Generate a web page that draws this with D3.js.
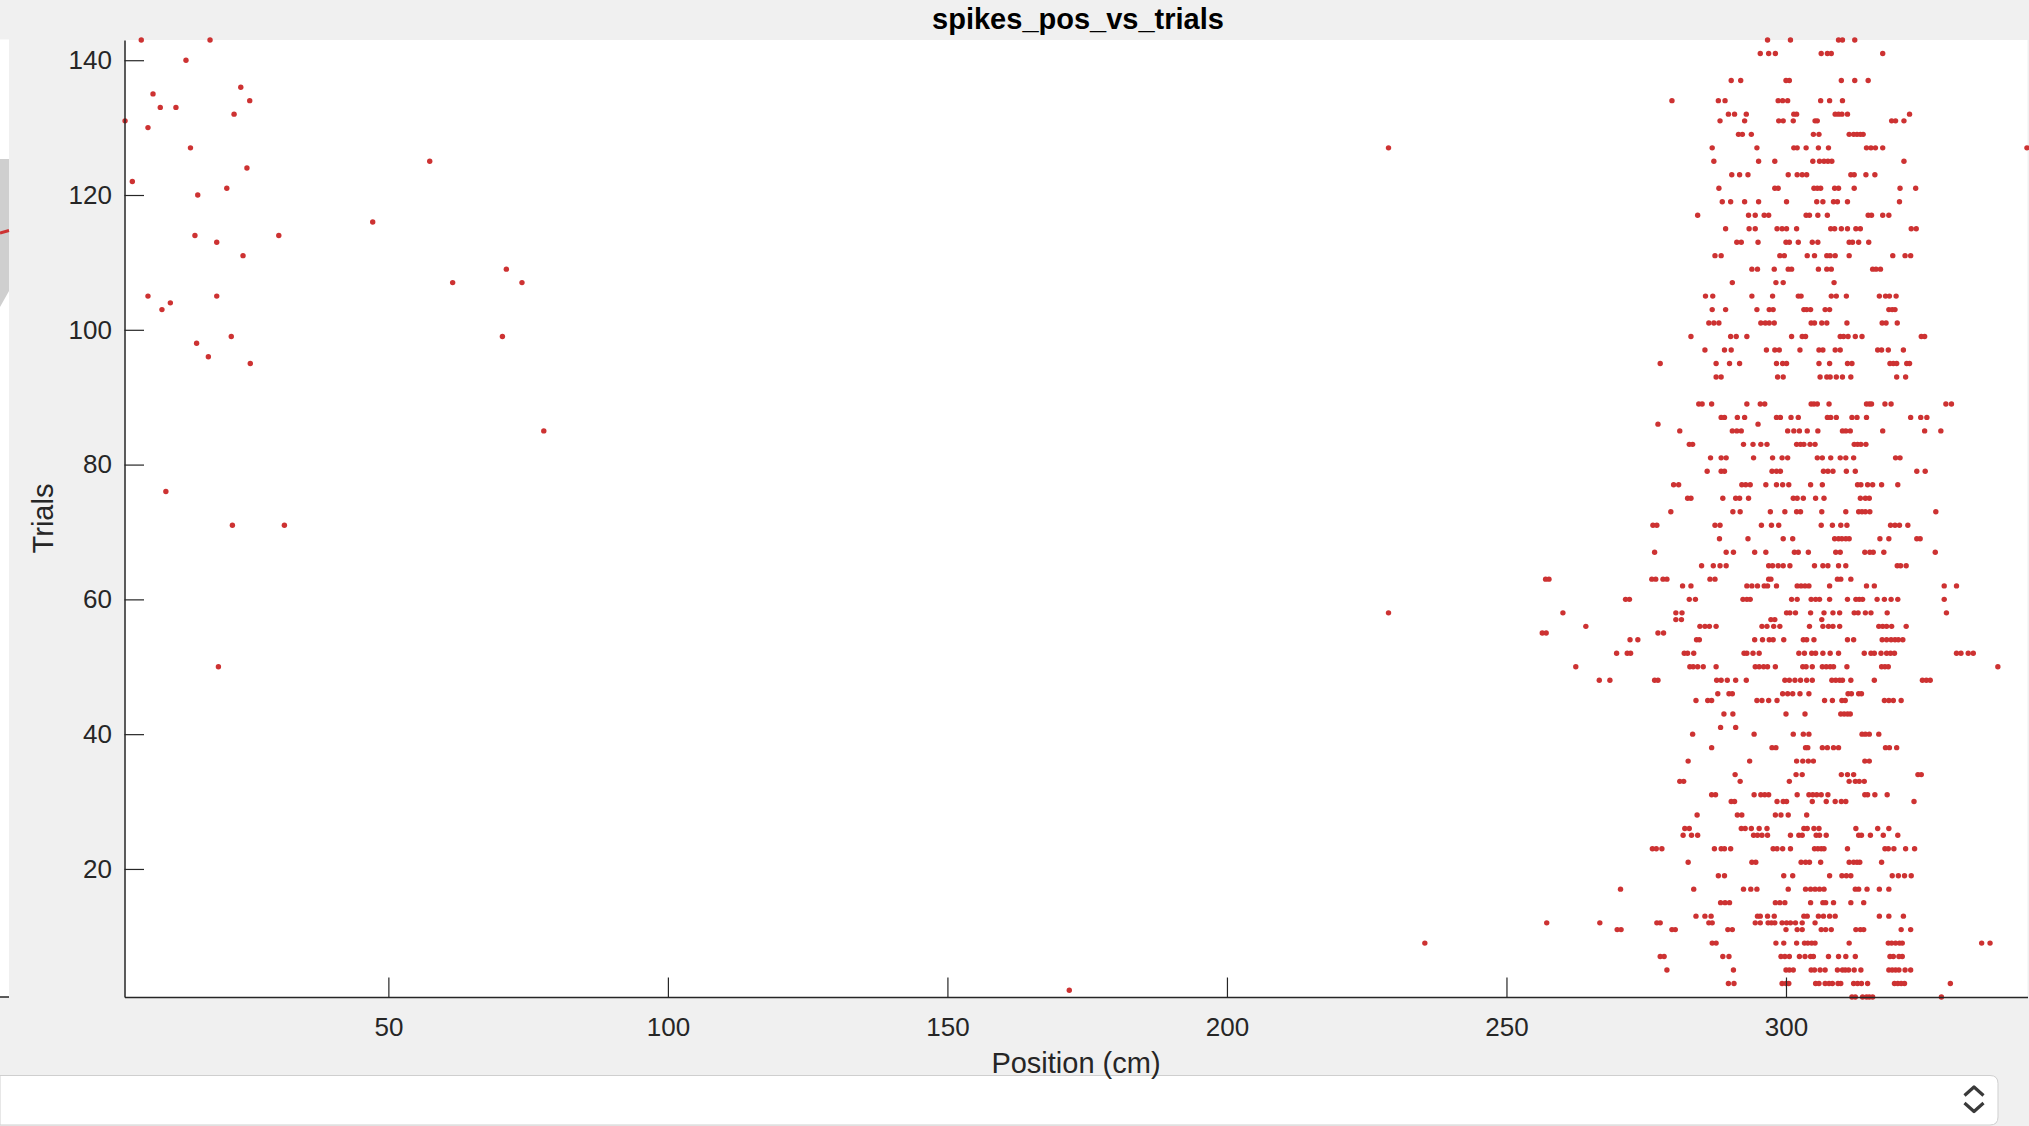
<!DOCTYPE html>
<html><head><meta charset="utf-8">
<script src="https://cdn.jsdelivr.net/npm/d3@7"></script>
<style>html,body{margin:0;padding:0;background:#f0f0f0;overflow:hidden}svg{display:block}</style>
</head><body>
<svg id="chart" width="2029" height="1126"></svg>
<script>
// ---------- data ----------
const chartTitle = "spikes_pos_vs_trials";
const xLabel = "Position (cm)";
const yLabel = "Trials";
const xDomain = [2.8, 343.2];
const yDomain = [1, 143];
const xTicks = [50, 100, 150, 200, 250, 300];
const yTicks = [20, 40, 60, 80, 100, 120, 140];

// sparse spikes outside the place field: [trial, [positions cm]]
const straySpikes = [
  [143, [5.8, 18.1]], [140, [13.8]], [136, [23.6]], [135, [7.9]], [134, [25.2]],
  [133, [9.2, 12.0]], [132, [22.4]], [131, [2.9]], [130, [7.0]], [127, [14.6, 228.9]],
  [125, [57.4]], [124, [24.7]], [122, [4.2]], [121, [21.1]], [120, [15.9]],
  [116, [47.2]], [114, [15.4, 30.4]], [113, [19.3]], [111, [24.0]], [109, [71.1]],
  [107, [61.5, 73.9]], [105, [7.0, 19.3]], [104, [11.0]], [103, [9.5]], [99, [21.9, 70.4]],
  [98, [15.7]], [96, [17.8]], [95, [25.3]], [85, [77.8]], [76, [10.2]],
  [71, [22.1, 31.4]], [58, [228.9]], [50, [19.6]], [9, [235.4]], [2, [171.8]]
];

// spikes in the place field: [trial, [positions cm]]
const fieldSpikes = [
  [143, [296.7, 300.8, 309.4, 310.1, 312.3]],
  [141, [295.4, 296.9, 298.1, 306.3, 307.4, 308.1, 317.3]],
  [137, [290.2, 291.9, 300.0, 300.6, 309.9, 312.3, 314.7]],
  [134, [279.6, 287.9, 289.1, 298.6, 299.4, 300.3, 306.2, 307.8, 310.1]],
  [132, [289.7, 290.8, 292.9, 301.4, 301.9, 308.8, 309.4, 310.0, 311.0, 322.1]],
  [131, [288.2, 292.6, 298.7, 299.5, 301.3, 305.2, 305.6, 318.9, 319.6, 321.1]],
  [129, [291.5, 292.2, 293.8, 304.9, 305.9, 311.3, 312.1, 312.7, 313.3, 313.8]],
  [127, [286.8, 294.8, 301.4, 302.0, 303.6, 305.8, 307.6, 314.4, 315.2, 316.0, 317.3, 343.1]],
  [125, [287.1, 295.1, 298.0, 304.8, 306.0, 306.8, 307.5, 308.2, 321.1]],
  [123, [290.3, 291.7, 293.2, 300.4, 302.0, 302.9, 303.7, 311.6, 312.2, 314.3, 315.9]],
  [121, [288.0, 298.0, 298.6, 305.0, 305.6, 306.2, 308.7, 309.4, 312.2, 320.4, 323.2]],
  [119, [288.6, 290.1, 292.6, 295.1, 300.1, 305.5, 306.6, 308.5, 309.2, 311.0, 320.3]],
  [117, [284.2, 293.3, 294.5, 296.1, 296.9, 303.6, 304.2, 305.7, 307.4, 314.7, 315.3, 317.3, 318.4]],
  [115, [289.2, 293.4, 294.5, 298.4, 299.3, 300.1, 301.9, 308.0, 308.7, 309.9, 311.0, 312.5, 313.3, 322.4, 323.3]],
  [113, [291.2, 292.0, 295.0, 300.0, 300.6, 302.2, 304.7, 305.7, 311.3, 311.9, 313.0, 314.8]],
  [111, [287.3, 288.4, 298.9, 299.7, 303.8, 305.1, 307.3, 307.9, 308.8, 311.3, 319.1, 321.3, 322.3]],
  [109, [293.9, 294.9, 297.9, 300.4, 301.0, 305.8, 307.3, 308.1, 315.5, 316.1, 316.9]],
  [107, [290.4, 298.2, 299.5, 308.6]],
  [105, [285.6, 286.9, 293.9, 297.6, 302.2, 302.7, 308.1, 309.0, 310.8, 316.7, 317.8, 318.5, 319.7]],
  [103, [286.8, 289.2, 294.8, 297.0, 297.7, 303.2, 303.7, 304.4, 307.0, 307.8, 318.4, 319.0, 319.5]],
  [101, [286.2, 287.1, 288.0, 295.5, 296.3, 297.0, 297.9, 304.5, 305.1, 306.4, 307.3, 310.9, 317.2, 317.9, 319.9]],
  [99, [283.0, 290.1, 291.1, 293.0, 301.0, 302.9, 303.5, 309.7, 310.3, 311.1, 312.4, 313.6, 324.2, 324.8]],
  [97, [285.5, 289.0, 290.2, 296.5, 298.0, 298.8, 302.5, 305.9, 306.6, 308.8, 309.7, 316.4, 317.1, 318.3, 321.0]],
  [95, [277.5, 287.5, 289.9, 291.7, 298.3, 299.4, 300.1, 305.9, 307.8, 311.0, 311.8, 318.6, 319.2, 319.8, 321.6, 322.1]],
  [93, [287.5, 288.4, 298.5, 299.5, 306.1, 307.3, 307.9, 309.0, 310.1, 311.6, 319.8, 321.4]],
  [89, [284.4, 285.0, 286.7, 293.0, 295.4, 296.2, 304.5, 305.0, 305.6, 307.7, 314.4, 314.9, 315.3, 317.7, 318.8, 328.6, 329.6]],
  [87, [288.4, 289.0, 291.3, 292.6, 298.3, 299.0, 300.9, 302.2, 307.4, 308.0, 309.0, 311.8, 312.7, 314.4, 322.3, 324.1, 325.2]],
  [86, [277.1, 295.0]],
  [85, [281.0, 290.4, 291.2, 292.0, 300.3, 301.4, 302.4, 303.8, 305.7, 310.1, 310.7, 311.5, 317.3, 324.8, 327.7]],
  [83, [282.7, 283.3, 292.4, 294.1, 295.5, 296.6, 301.9, 302.6, 303.2, 304.3, 305.2, 312.2, 312.8, 313.4, 314.3]],
  [81, [286.5, 288.4, 289.3, 294.2, 297.6, 299.3, 300.3, 305.6, 306.5, 308.0, 309.7, 310.7, 312.1, 319.6, 320.4]],
  [79, [285.9, 288.4, 289.0, 297.5, 298.3, 299.0, 306.7, 307.5, 308.4, 310.8, 312.4, 323.4, 324.9]],
  [77, [279.9, 280.8, 292.1, 292.8, 293.6, 296.4, 298.3, 299.4, 300.5, 304.4, 306.5, 312.8, 313.4, 314.6, 315.5, 317.1, 320.0]],
  [75, [282.4, 283.0, 288.7, 291.0, 291.7, 293.3, 301.3, 302.0, 303.1, 305.3, 306.8, 313.3, 314.2, 314.9]],
  [73, [279.4, 290.5, 291.8, 297.2, 299.8, 301.9, 302.6, 306.4, 310.7, 313.0, 313.6, 314.2, 315.0, 326.8]],
  [71, [276.2, 276.9, 287.3, 288.2, 295.6, 297.4, 298.7, 306.3, 308.3, 309.8, 310.9, 318.7, 319.5, 320.3, 321.8]],
  [69, [288.1, 293.2, 299.5, 301.2, 308.7, 309.4, 310.0, 310.7, 311.3, 316.8, 318.4, 323.4, 324.0]],
  [67, [276.5, 289.3, 290.6, 294.4, 296.4, 301.5, 302.2, 304.0, 308.9, 309.7, 314.1, 315.0, 315.6, 317.5, 326.7]],
  [65, [284.9, 287.0, 288.2, 289.3, 296.9, 297.6, 298.6, 299.5, 300.7, 305.1, 306.6, 307.5, 309.4, 310.7, 319.9, 320.5, 321.5]],
  [63, [257.0, 257.6, 276.0, 276.7, 278.0, 278.7, 286.4, 287.3, 296.9, 297.3, 309.2, 309.8, 311.6]],
  [62, [281.5, 283.0, 293.0, 293.9, 294.9, 296.1, 296.7, 298.3, 302.0, 302.7, 303.4, 304.1, 307.8, 314.4, 315.8, 328.3, 330.5]],
  [60, [271.3, 272.0, 282.7, 283.8, 292.3, 293.0, 293.6, 301.0, 302.0, 304.5, 305.3, 306.0, 307.8, 311.0, 312.5, 313.1, 313.7, 316.3, 317.6, 318.8, 320.0, 328.3]],
  [58, [260.1, 280.3, 281.4, 300.1, 300.7, 301.7, 304.4, 306.8, 308.4, 309.6, 312.2, 312.9, 314.2, 315.2, 318.1, 328.7]],
  [57, [280.3, 281.3, 297.3, 298.0, 306.4]],
  [56, [264.2, 284.6, 285.5, 286.3, 287.5, 295.7, 296.6, 297.8, 298.9, 304.2, 306.6, 307.6, 308.4, 309.6, 316.6, 317.3, 318.0, 318.9, 321.5]],
  [55, [256.4, 257.1, 277.1, 278.1]],
  [54, [272.1, 273.5, 284.0, 284.5, 294.4, 295.8, 297.0, 297.7, 299.6, 303.1, 303.7, 305.0, 311.0, 312.1, 317.2, 318.0, 318.8, 319.5, 320.1, 320.9]],
  [52, [269.7, 271.6, 272.2, 281.8, 282.4, 283.5, 292.5, 293.0, 294.1, 295.2, 302.3, 303.3, 304.6, 305.3, 306.6, 307.9, 309.4, 314.0, 315.2, 315.8, 317.0, 318.0, 318.7, 319.4, 330.5, 331.3, 332.6, 333.5]],
  [50, [262.4, 282.8, 283.4, 284.2, 285.2, 287.5, 294.5, 295.2, 296.0, 296.7, 298.1, 303.0, 303.6, 304.7, 306.5, 307.2, 307.9, 308.5, 310.9, 317.1, 317.7, 318.3, 337.9]],
  [48, [266.6, 268.5, 276.5, 277.1, 287.6, 288.4, 289.5, 291.0, 292.9, 299.8, 300.6, 301.6, 302.6, 303.7, 304.7, 308.2, 308.9, 309.6, 310.1, 311.6, 315.8, 324.4, 325.1, 325.8]],
  [46, [287.8, 289.8, 290.4, 299.4, 300.3, 301.2, 302.5, 304.1, 311.1, 311.7, 313.0, 313.5]],
  [45, [283.9, 286.0, 286.7, 294.8, 295.7, 296.9, 298.4, 306.9, 308.3, 310.0, 310.6, 317.6, 318.4, 319.2, 320.6]],
  [43, [288.9, 290.5, 300.0, 303.4, 309.8, 310.4, 311.0, 311.5]],
  [41, [288.3, 291.0]],
  [40, [283.3, 294.3, 301.3, 303.1, 304.1, 313.6, 314.2, 314.9, 316.6]],
  [38, [286.7, 297.5, 298.2, 303.5, 303.9, 306.5, 307.4, 308.5, 309.4, 317.8, 318.5, 319.8]],
  [36, [282.5, 293.5, 301.9, 303.0, 304.0, 304.9, 314.1, 314.9]],
  [34, [290.9, 301.8, 302.9, 309.9, 311.0, 312.1, 323.6, 324.2]],
  [33, [281.0, 281.7, 291.8, 300.6, 311.3, 312.4, 313.1, 314.0]],
  [31, [286.7, 287.4, 294.3, 295.5, 296.2, 296.9, 302.0, 304.1, 304.8, 305.5, 306.3, 307.5, 314.1, 314.6, 315.9, 318.1]],
  [30, [290.2, 290.8, 298.4, 299.5, 300.1, 304.7, 307.2, 308.8, 309.9, 310.7, 322.9]],
  [28, [284.1, 291.3, 292.1, 298.1, 299.1, 300.4, 303.7]],
  [26, [281.9, 282.7, 292.0, 292.7, 293.8, 295.2, 296.6, 303.2, 303.8, 305.0, 305.9, 312.5, 316.4, 318.4]],
  [25, [281.6, 283.1, 284.2, 294.2, 294.9, 295.7, 296.7, 300.8, 302.3, 302.9, 305.4, 306.0, 307.2, 313.0, 313.5, 315.1, 317.4, 320.0]],
  [23, [276.1, 276.8, 277.8, 287.2, 288.4, 289.0, 290.1, 297.7, 298.4, 299.4, 300.8, 305.1, 305.7, 306.3, 306.8, 311.0, 317.7, 318.3, 319.3, 321.4, 323.0]],
  [21, [282.5, 293.9, 294.6, 302.7, 303.5, 304.2, 306.2, 311.3, 312.1, 312.7, 313.2, 317.1]],
  [19, [287.9, 289.0, 299.6, 301.2, 307.8, 310.0, 310.8, 311.6, 319.0, 320.1, 321.2, 322.4]],
  [17, [270.4, 283.5, 292.4, 293.7, 294.8, 300.4, 303.5, 304.4, 305.2, 306.0, 306.8, 312.4, 313.0, 314.5, 316.7, 318.4]],
  [15, [288.3, 289.1, 289.9, 298.1, 298.9, 299.8, 304.4, 306.6, 307.1, 308.5, 311.6, 313.9]],
  [13, [283.9, 285.5, 286.6, 294.9, 295.4, 296.7, 297.9, 303.2, 303.8, 305.8, 306.7, 307.8, 308.8, 316.7, 318.4, 321.0]],
  [12, [257.2, 266.7, 276.9, 277.5, 286.2, 286.8, 294.5, 295.4, 296.8, 297.4, 298.0, 299.3, 300.1, 300.8, 301.7, 302.9, 305.2]],
  [11, [269.8, 270.5, 279.6, 280.2, 289.6, 290.4, 300.0, 302.0, 302.9, 306.3, 307.1, 308.1, 312.5, 313.3, 313.9, 320.6, 322.3]],
  [9, [286.8, 287.5, 298.2, 299.6, 301.9, 303.3, 303.9, 304.6, 305.2, 311.3, 318.3, 318.9, 319.6, 320.3, 320.8, 335.0, 336.5]],
  [7, [277.5, 278.2, 288.7, 289.8, 299.1, 299.8, 300.6, 302.4, 303.4, 304.4, 304.9, 307.6, 309.4, 310.7, 312.4, 318.6, 319.2, 320.2, 320.8]],
  [5, [278.7, 290.6, 300.0, 300.6, 301.3, 304.5, 305.1, 306.1, 307.0, 309.2, 310.1, 310.6, 311.2, 312.2, 313.4, 318.4, 319.0, 319.6, 320.2, 321.3, 322.3]],
  [3, [289.7, 290.7, 299.3, 300.0, 300.5, 305.3, 305.9, 307.0, 307.7, 308.3, 309.3, 309.8, 312.1, 312.8, 313.5, 314.6, 319.4, 320.0, 320.6, 321.2, 329.4]],
  [1, [311.8, 312.4, 313.7, 314.4, 314.9, 315.5, 327.8]]
];

// ---------- drawing ----------
const W = 2029, H = 1126;
const plot = {left: 124.5, right: 2027.5, top: 40, bottom: 997};
const font = "'Liberation Sans', Arial, Helvetica, sans-serif";
const axisColor = "#262626";
const dotColor = "#cd3232";

const svg = d3.select("#chart");

// figure background
svg.append("rect").attr("width", W).attr("height", H).attr("fill", "#f0f0f0");

// neighbouring panel remnant on the left
svg.append("rect").attr("x", 0).attr("y", 39.5).attr("width", 9).attr("height", 957.5).attr("fill", "#ffffff");
svg.append("path").attr("d", "M0,159 L9,159 L9,291 L0,307 Z").attr("fill", "#cfcfcf");
svg.append("line").attr("x1", 0).attr("y1", 233).attr("x2", 9).attr("y2", 230.5)
  .attr("stroke", dotColor).attr("stroke-width", 3);
svg.append("line").attr("x1", 0).attr("y1", 997).attr("x2", 9).attr("y2", 997)
  .attr("stroke", axisColor).attr("stroke-width", 1.5);

// bottom control strip
svg.append("path")
  .attr("d", "M0,1075.5 L1990,1075.5 Q1998,1075.5 1998,1083.5 L1998,1117 Q1998,1125 1990,1125 L0,1125 Z")
  .attr("fill", "#ffffff").attr("stroke", "#cfcfcf").attr("stroke-width", 1);
svg.append("path").attr("d", "M1964.5,1095.5 L1974,1087 L1983.5,1095.5")
  .attr("fill", "none").attr("stroke", "#3a3a3a").attr("stroke-width", 3.2).attr("stroke-linejoin", "round");
svg.append("path").attr("d", "M1964.5,1103 L1974,1111.5 L1983.5,1103")
  .attr("fill", "none").attr("stroke", "#3a3a3a").attr("stroke-width", 3.2).attr("stroke-linejoin", "round");

// axes area
svg.append("rect").attr("x", plot.left).attr("y", plot.top)
  .attr("width", plot.right - plot.left).attr("height", plot.bottom - plot.top).attr("fill", "#ffffff");

const x = d3.scaleLinear().domain(xDomain).range([plot.left, plot.right]);
const y = d3.scaleLinear().domain(yDomain).range([plot.bottom, plot.top]);

// spikes
const points = [];
for (const [trial, posList] of straySpikes.concat(fieldSpikes)) {
  for (const p of posList) points.push({trial, pos: p});
}
svg.append("g").selectAll("circle").data(points).join("circle")
  .attr("cx", d => x(d.pos)).attr("cy", d => y(d.trial))
  .attr("r", 2.7).attr("fill", dotColor);

// x axis
const gx = svg.append("g").attr("transform", `translate(0,${plot.bottom})`)
  .call(d3.axisBottom(x).tickValues(xTicks).tickSizeInner(-19.5).tickSizeOuter(0).tickPadding(20.5));
// y axis
const gy = svg.append("g").attr("transform", `translate(${plot.left},0)`)
  .call(d3.axisLeft(y).tickValues(yTicks).tickSizeInner(-19.5).tickSizeOuter(0).tickPadding(12.5));

for (const g of [gx, gy]) {
  g.select(".domain").attr("stroke", axisColor).attr("stroke-width", 1.5);
  g.selectAll(".tick line").attr("stroke", axisColor).attr("stroke-width", 1.2);
  g.selectAll(".tick text").attr("fill", axisColor).style("font-family", font).style("font-size", "26px");
}

// labels
svg.append("text").attr("x", 1078).attr("y", 29).attr("text-anchor", "middle")
  .style("font-family", font).style("font-size", "29px").style("font-weight", "bold").attr("fill", "#000")
  .text(chartTitle);
svg.append("text").attr("x", 1076).attr("y", 1073).attr("text-anchor", "middle")
  .style("font-family", font).style("font-size", "29px").attr("fill", axisColor)
  .text(xLabel);
svg.append("text").attr("transform", "translate(53,518.5) rotate(-90)").attr("text-anchor", "middle")
  .style("font-family", font).style("font-size", "29px").attr("fill", axisColor)
  .text(yLabel);
</script>
</body></html>
